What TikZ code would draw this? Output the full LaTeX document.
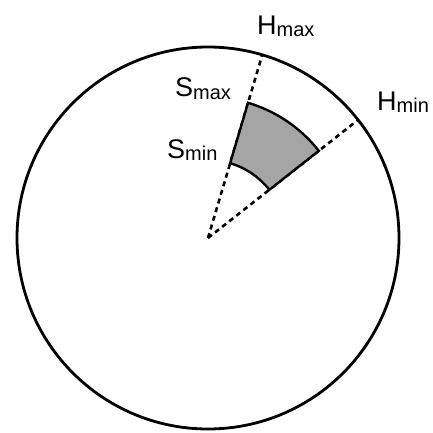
\documentclass[tikz,border=0pt]{standalone}
\usepackage{fontspec}
\setmainfont{Liberation Sans}
\usetikzlibrary{calc}
\definecolor{bandgray}{RGB}{165, 165, 165}
\newcommand{\lsub}[1]{\raisebox{-2pt}{\fontsize{20}{20}\selectfont #1}}

\begin{document}
\begin{tikzpicture}[x=1pt, y=1pt,
  rim/.style={line width=2.8pt},
  ray/.style={line width=2.6pt, dash pattern=on 5pt off 4pt},
  lbl/.style={font=\fontsize{27}{29}\selectfont, inner sep=0pt, anchor=base west}]
  \useasboundingbox (0,0) rectangle (433,432);
  \coordinate (O) at (208,194);

  % colour wheel
  \draw[rim] (O) circle[radius=191];

  % hue limits
  \draw[ray] (O) -- ++(73.5:191) coordinate (hmaxend);
  \draw[ray] (O) -- ++(38.2:191) coordinate (hminend);

  % saturation band
  \filldraw[fill=bandgray, line width=2.4pt] ($(O)+(73.5:78)$) -- ($(O)+(73.5:141)$)
    arc[start angle=73.5, end angle=38.2, radius=141] -- ($(O)+(38.2:78)$)
    arc[start angle=38.2, end angle=73.5, radius=78] -- cycle;

  % labels
  \node[lbl] (Hmax) at (257,397) {H\lsub{max}};
  \node[lbl] (Hmin) at (377,322) {H\lsub{min}};
  \node[lbl] (Smax) at (175,335) {S\lsub{max}};
  \node[lbl] (Smin) at (167,274) {S\lsub{min}};
\end{tikzpicture}
\end{document}
